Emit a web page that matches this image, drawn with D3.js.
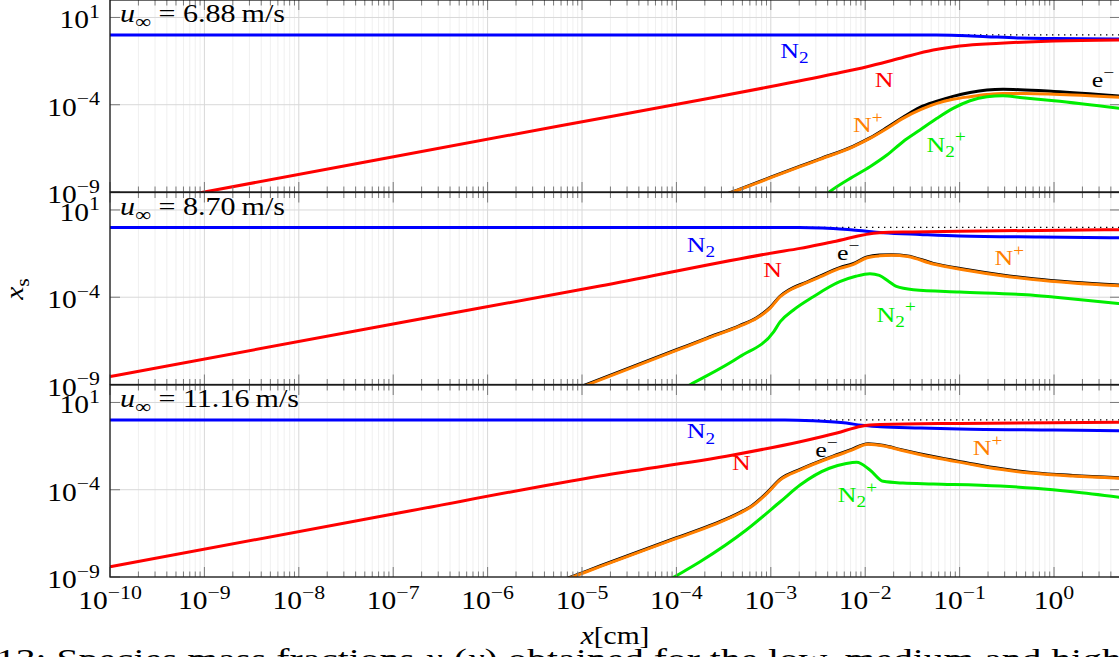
<!DOCTYPE html>
<html>
<head>
<meta charset="utf-8">
<script src="https://cdn.jsdelivr.net/npm/d3@7"></script>
<style>
  html, body { margin: 0; padding: 0; background: #fff; overflow: hidden; }
  svg { display: block; }
  text { font-family: "Liberation Serif", "Times New Roman", serif; fill: #000; }
</style>
</head>
<body>
<svg id="chart" width="1119" height="657"></svg>
<script>
// ---- axes ----
const xDomain = [1e-10, 5];          // x [cm]
const yDomain = [1e-9, 1e2];         // x_s
const xTickExponents = [-10, -9, -8, -7, -6, -5, -4, -3, -2, -1, 0];
const yTickExponents = [1, -4, -9];
const speedLabels = ["6.88", "8.70", "11.16"];

// ---- species profiles, points are [log10 x, log10 x_s] ----
// u = 6.88 m/s
const n2_a = [[-10, 0], [-1.25, 0], [-1.0, -0.03], [-0.71, -0.1], [-0.36, -0.18], [0.0, -0.21], [0.7, -0.24]];
const n_a = [[-10, -10], [-9, -9], [-5.23, -5.2], [-3.75, -3.73], [-3.04, -3.0], [-2.34, -2.24], [-1.98, -1.82], [-1.63, -1.34], [-1.28, -0.87], [-1.0, -0.64], [-0.57, -0.48], [0, -0.35], [0.7, -0.29]];
const el_a = [[-3.6, -9.36], [-3.4, -8.98], [-3.0, -8.15], [-2.69, -7.52], [-2.48, -7.1], [-2.13, -6.38], [-1.95, -5.9], [-1.77, -5.31], [-1.6, -4.72], [-1.42, -4.15], [-1.24, -3.8], [-1.07, -3.52], [-0.89, -3.3], [-0.71, -3.16], [-0.54, -3.12], [-0.36, -3.14], [0, -3.24], [0.7, -3.5]];
const np_a = [[-3.6, -9.4], [-3.4, -9.0], [-3.0, -8.18], [-2.69, -7.55], [-2.48, -7.13], [-2.13, -6.41], [-1.95, -5.93], [-1.77, -5.36], [-1.6, -4.78], [-1.42, -4.3], [-1.24, -3.92], [-1.07, -3.69], [-0.89, -3.54], [-0.71, -3.42], [-0.54, -3.36], [-0.3, -3.36], [0, -3.4], [0.7, -3.58]];
const n2p_a = [[-2.45, -9.3], [-2.38, -9.0], [-2.13, -8.13], [-1.95, -7.55], [-1.77, -6.88], [-1.6, -6.12], [-1.42, -5.45], [-1.24, -4.78], [-1.07, -4.21], [-0.89, -3.77], [-0.71, -3.54], [-0.54, -3.48], [-0.36, -3.58], [0, -3.77], [0.7, -4.21]];

// u = 8.70 m/s
const n2_b = [[-10, 0], [-2.7, 0], [-2.45, -0.03], [-2.13, -0.15], [-1.81, -0.3], [-1.42, -0.4], [-1.0, -0.49], [-0.15, -0.55], [0.7, -0.59]];
const n_b = [[-10, -8.55], [-6.93, -5.46], [-4.81, -3.36], [-2.97, -1.45], [-2.69, -1.2], [-2.34, -0.82], [-1.85, -0.3], [-1.5, -0.26], [-1.0, -0.22], [-0.15, -0.17], [0.7, -0.13]];
const el_b = [[-5.1, -9.31], [-4.95, -8.99], [-4.0, -7.01], [-3.68, -6.34], [-3.33, -5.62], [-3.15, -5.17], [-3.01, -4.6], [-2.9, -3.93], [-2.81, -3.59], [-2.62, -3.13], [-2.48, -2.79], [-2.27, -2.3], [-2.13, -2.08], [-1.98, -1.69], [-1.85, -1.58], [-1.72, -1.56], [-1.55, -1.63], [-1.28, -2.06], [-0.93, -2.41], [-0.57, -2.71], [-0.22, -2.94], [0.2, -3.14], [0.7, -3.31]];
const np_b = [[-5.1, -9.35], [-4.95, -9.03], [-4.0, -7.05], [-3.68, -6.38], [-3.33, -5.66], [-3.15, -5.21], [-3.01, -4.64], [-2.9, -3.97], [-2.81, -3.63], [-2.62, -3.17], [-2.48, -2.84], [-2.27, -2.35], [-2.13, -2.13], [-1.98, -1.74], [-1.85, -1.63], [-1.72, -1.6], [-1.55, -1.67], [-1.28, -2.1], [-0.93, -2.45], [-0.57, -2.75], [-0.22, -2.98], [0.2, -3.18], [0.7, -3.35]];
const n2p_b = [[-3.95, -9.3], [-3.86, -9.03], [-3.33, -7.41], [-2.97, -5.98], [-2.9, -5.4], [-2.76, -4.73], [-2.55, -3.97], [-2.27, -3.11], [-2.1, -2.8], [-1.95, -2.65], [-1.85, -2.75], [-1.75, -3.1], [-1.67, -3.38], [-1.49, -3.57], [-1.0, -3.7], [-0.29, -3.86], [-0.01, -3.99], [0.7, -4.37]];

// u = 11.16 m/s
const n2_c = [[-10, 0], [-2.85, 0], [-2.55, -0.05], [-2.2, -0.18], [-2.04, -0.31], [-1.84, -0.39], [-1.42, -0.46], [-1.0, -0.52], [0, -0.58], [0.7, -0.62]];
const n_c = [[-10, -8.41], [-6.93, -5.32], [-4.81, -3.21], [-3.4, -2.01], [-2.69, -1.25], [-2.3, -0.75], [-2.04, -0.36], [-1.84, -0.27], [-1.0, -0.2], [0.7, -0.14]];
const el_c = [[-5.3, -9.36], [-5.1, -8.96], [-4.81, -8.37], [-4.0, -6.75], [-3.6, -5.96], [-3.33, -5.31], [-3.2, -4.91], [-3.04, -4.17], [-2.9, -3.4], [-2.69, -2.83], [-2.34, -2.07], [-2.15, -1.7], [-1.97, -1.36], [-1.8, -1.47], [-1.63, -1.69], [-1.28, -2.1], [-0.93, -2.45], [-0.57, -2.79], [-0.22, -3.02], [0.2, -3.18], [0.7, -3.31]];
const np_c = [[-5.3, -9.4], [-5.1, -9.0], [-4.81, -8.41], [-4.0, -6.79], [-3.6, -6.0], [-3.33, -5.35], [-3.2, -4.95], [-3.04, -4.21], [-2.9, -3.44], [-2.69, -2.87], [-2.34, -2.11], [-2.15, -1.75], [-1.97, -1.4], [-1.8, -1.5], [-1.63, -1.72], [-1.28, -2.14], [-0.93, -2.49], [-0.57, -2.83], [-0.22, -3.06], [0.2, -3.22], [0.7, -3.35]];
const n2p_c = [[-4.15, -9.4], [-4.03, -9.02], [-3.75, -8.13], [-3.26, -6.31], [-2.9, -4.69], [-2.69, -3.73], [-2.38, -2.77], [-2.2, -2.5], [-2.09, -2.43], [-1.95, -2.87], [-1.81, -3.52], [-1.6, -3.62], [-1.28, -3.67], [-0.57, -3.79], [-0.2, -3.92], [0.2, -4.12], [0.7, -4.44]];

// sum of all species (dotted reference at x_s = 1)
const totalLine = [[-10, 0], [0.7, 0]];

// species label anchors, [log10 x, log10 x_s] of the label baseline start
const labelPos = [
  { n2: [-2.9, -1.32], n: [-1.9, -2.99], el: [0.4, -3.0], np: [-2.13, -5.55], n2p: [-1.35, -6.69] },
  { n2: [-3.89, -1.39], n: [-3.08, -2.83], el: [-2.3, -1.87], np: [-0.63, -2.15], n2p: [-1.88, -5.4] },
  { n2: [-3.89, -1.05], n: [-3.41, -2.87], el: [-2.53, -2.14], np: [-0.86, -2.01], n2p: [-2.29, -4.69] }
];

const panels = [
  { speed: speedLabels[0], n2: n2_a, n: n_a, el: el_a, np: np_a, n2p: n2p_a },
  { speed: speedLabels[1], n2: n2_b, n: n_b, el: el_b, np: np_b, n2p: n2p_b },
  { speed: speedLabels[2], n2: n2_c, n: n_c, el: el_c, np: np_c, n2p: n2p_c }
];

const colors = { n2: "#0000ff", n: "#ff0000", el: "#000000", np: "#ff8000", n2p: "#00ee00" };

// ---- layout ----
const plotLeft = 110, plotRight = 1120;
const panelHeight = 192;
const panelTops = [0, 192.5, 385];
const STRETCH = 1.18;

const svg = d3.select("#chart");
const x = d3.scaleLog().domain(xDomain).range([plotLeft, plotRight]);

// math-like text: parts = [{t, sup, sub, it}]
function mathText(parent, px, py, parts, size, anchor, color, stretch) {
  const s = stretch || STRETCH;
  const g = parent.append("g").attr("transform", `translate(${px},${py}) scale(${s},1)`);
  const t = g.append("text").attr("text-anchor", anchor || "start").style("font-size", size + "px");
  if (color) t.style("fill", color);
  let shift = 0;
  parts.forEach(p => {
    const off = p.sup ? -0.42 * size : p.sub ? 0.24 * size : 0;
    const ts = t.append("tspan").text(p.t).attr("dy", off - shift);
    shift = off;
    if (p.sup || p.sub) ts.style("font-size", (0.74 * size) + "px");
    if (p.it) ts.style("font-style", "italic");
    if (color) ts.style("fill", color);
  });
  return g;
}

const minorXTicks = [];
xTickExponents.forEach(e => {
  for (let m = 2; m <= 9; m++) {
    const v = m * Math.pow(10, e);
    if (v <= xDomain[1]) minorXTicks.push(v);
  }
});
const majorXTicks = xTickExponents.map(e => Math.pow(10, e));
const majorYTicks = yTickExponents.map(e => Math.pow(10, e));

const line = (y) => d3.line()
  .x(d => x(Math.pow(10, d[0])))
  .y(d => y(Math.pow(10, d[1])))
  .curve(d3.curveMonotoneX);

const defs = svg.append("defs");

panels.forEach((p, i) => {
  const top = panelTops[i];
  const bottom = top + panelHeight;
  const y = d3.scaleLog().domain(yDomain).range([bottom, top]);
  const g = svg.append("g");

  // grid
  const grid = g.append("g");
  grid.selectAll(".gxm").data(minorXTicks).join("line")
    .attr("x1", d => x(d)).attr("x2", d => x(d))
    .attr("y1", top).attr("y2", bottom)
    .attr("stroke", "#eeeeee").attr("stroke-width", 0.9);
  grid.selectAll(".gxM").data(majorXTicks).join("line")
    .attr("x1", d => x(d)).attr("x2", d => x(d))
    .attr("y1", top).attr("y2", bottom)
    .attr("stroke", "#d8d8d8").attr("stroke-width", 1);
  grid.selectAll(".gyM").data(majorYTicks).join("line")
    .attr("x1", plotLeft).attr("x2", plotRight)
    .attr("y1", d => y(d)).attr("y2", d => y(d))
    .attr("stroke", "#d8d8d8").attr("stroke-width", 1);

  // curves
  const clipId = "clip" + i;
  defs.append("clipPath").attr("id", clipId).append("rect")
    .attr("x", plotLeft).attr("y", top).attr("width", plotRight - plotLeft).attr("height", panelHeight);
  const curves = g.append("g").attr("clip-path", `url(#${clipId})`);
  const L = line(y);
  curves.append("path").attr("d", L(totalLine)).attr("fill", "none")
    .attr("stroke", "#000").attr("stroke-width", 1.3).attr("stroke-dasharray", "1.4,4.6");
  curves.append("path").attr("d", L(p.n2)).attr("fill", "none").attr("stroke", colors.n2).attr("stroke-width", 3);
  curves.append("path").attr("d", L(p.n)).attr("fill", "none").attr("stroke", colors.n).attr("stroke-width", 3);
  curves.append("path").attr("d", L(p.el)).attr("fill", "none").attr("stroke", colors.el).attr("stroke-width", 3);
  curves.append("path").attr("d", L(p.np)).attr("fill", "none").attr("stroke", colors.np).attr("stroke-width", 3);
  curves.append("path").attr("d", L(p.n2p)).attr("fill", "none").attr("stroke", colors.n2p).attr("stroke-width", 3);

  // ticks (inside, on all four sides)
  const ticks = g.append("g").attr("stroke", "#7a7a7a").attr("stroke-width", 1);
  [[top, 1], [bottom, -1]].forEach(([yy, dir]) => {
    ticks.selectAll(null).data(minorXTicks).join("line")
      .attr("x1", d => x(d)).attr("x2", d => x(d))
      .attr("y1", yy).attr("y2", yy + dir * 5.5);
    ticks.selectAll(null).data(majorXTicks).join("line")
      .attr("x1", d => x(d)).attr("x2", d => x(d))
      .attr("y1", yy).attr("y2", yy + dir * 10);
  });
  [[plotLeft, 1], [plotRight, -1]].forEach(([xx, dir]) => {
    ticks.selectAll(null).data(majorYTicks).join("line")
      .attr("x1", xx).attr("x2", xx + dir * 10)
      .attr("y1", d => y(d)).attr("y2", d => y(d));
  });

  // frame
  g.append("rect").attr("x", plotLeft).attr("y", top)
    .attr("width", plotRight - plotLeft).attr("height", panelHeight)
    .attr("fill", "none").attr("stroke", "#1a1a1a").attr("stroke-width", 1.3);

  // y tick labels
  yTickExponents.forEach(e => {
    const parts = [{ t: "10" }, { t: e < 0 ? "\u2212" + Math.abs(e) : String(e), sup: true }];
    mathText(svg, 100, y(Math.pow(10, e)) + 11, parts, 25, "end");
  });

  // panel title
  mathText(svg, plotLeft + 10, top + 22, [
    { t: "u", it: true }, { t: "\u221e", sub: true }, { t: " = " + p.speed + "\u2009m/s" }
  ], 25.5, "start");

  // species labels
  const lp = labelPos[i];
  const at = (k) => [x(Math.pow(10, lp[k][0])), y(Math.pow(10, lp[k][1]))];
  mathText(svg, ...at("n2"), [{ t: "N" }, { t: "2", sub: true }], 22, "start", colors.n2);
  mathText(svg, ...at("n"), [{ t: "N" }], 22, "start", colors.n);
  mathText(svg, ...at("el"), [{ t: "e" }, { t: "\u2212", sup: true }], 22, "start", "#000");
  mathText(svg, ...at("np"), [{ t: "N" }, { t: "+", sup: true }], 22, "start", colors.np);
  mathText(svg, ...at("n2p"), [{ t: "N" }, { t: "2", sub: true }, { t: "+", sup: true }], 22, "start", colors.n2p);
});

// x tick labels on the bottom panel
const xLabelBase = panelTops[2] + panelHeight + 32;
xTickExponents.forEach(e => {
  const parts = [{ t: "10" }, { t: e < 0 ? "\u2212" + Math.abs(e) : String(e), sup: true }];
  mathText(svg, x(Math.pow(10, e)), xLabelBase, parts, 25, "middle");
});

// axis titles
mathText(svg, 615, 644, [{ t: "x", it: true }, { t: "[cm]" }], 25, "middle");
const yt = svg.append("g").attr("transform", "translate(23,289) rotate(-90)");
mathText(yt, 0, 0, [{ t: "x", it: true }, { t: "s", sub: true }], 25, "middle");

// caption line below the figure
mathText(svg, -4, 669, [
  { t: "13: Species mass fractions " }, { t: "x", it: true }, { t: "s", sub: true },
  { t: "(" }, { t: "x", it: true }, { t: ") obtained for the low, medium and high" }
], 30, "start", null, 1.32);
</script>
</body>
</html>
